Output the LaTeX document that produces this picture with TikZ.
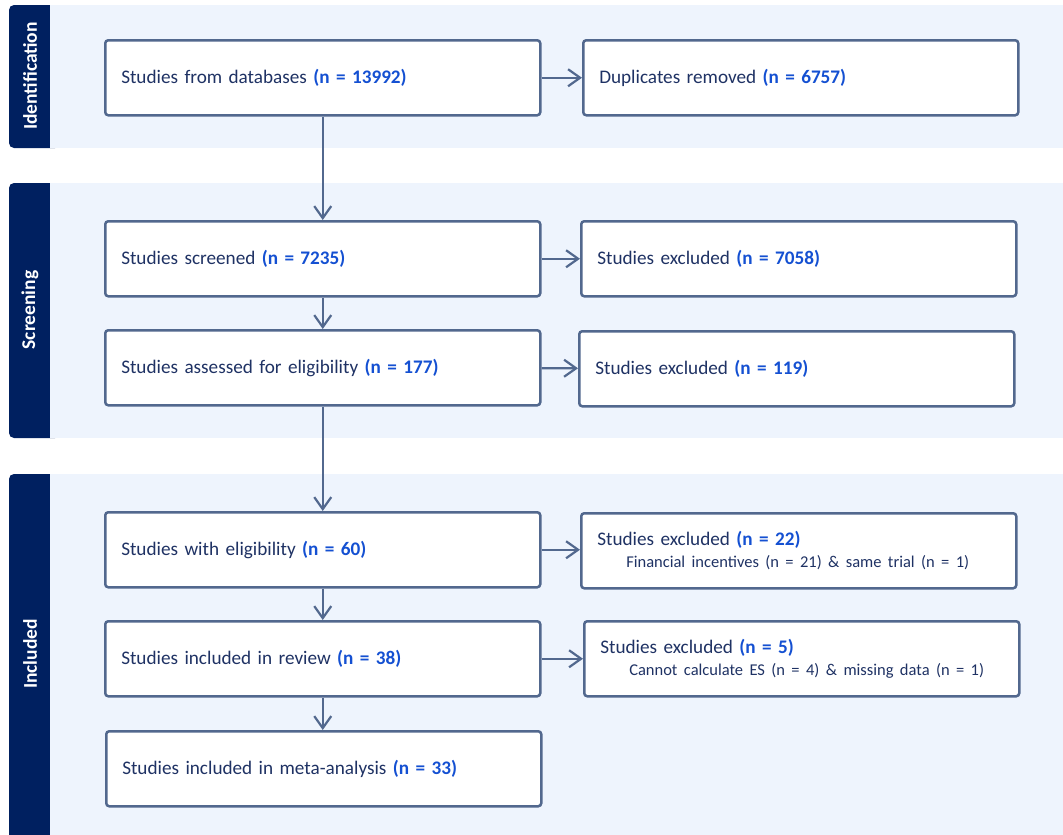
\documentclass[tikz,border=0pt]{standalone}
\usepackage{fontspec}
\setmainfont{Carlito}
\usetikzlibrary{arrows.meta}
\definecolor{tabc}{RGB}{0,32,96}
\definecolor{bandc}{RGB}{238,244,253}
\definecolor{edgec}{RGB}{82,104,142}
\definecolor{txtc}{RGB}{31,50,100}
\definecolor{numc}{RGB}{20,80,210}
\newcommand{\nnum}[1]{\textbf{\color{numc}#1}}
\newcommand{\subline}[1]{{\fontsize{16.5}{22}\selectfont\hspace*{29pt}#1}}
\begin{document}
\begin{tikzpicture}[x=1pt,y=-1pt,
  box/.style={draw=edgec, line width=2.5pt, rounded corners=3pt, fill=white,
    minimum height=75pt, text width=403pt, inner xsep=16pt, inner ysep=0pt,
    align=left, anchor=north west, font=\fontsize{19.2}{22}\selectfont, text=txtc},
  flow/.style={draw=edgec, line width=2.2pt, -{Straight Barb[length=12pt,width=17pt]}},
  tablabel/.style={rotate=90, text=white, font=\fontsize{19.5}{22}\selectfont\bfseries},
  band/.style={fill=bandc},
  tab/.style={fill=tabc}]
\useasboundingbox (0,0) rectangle (1063,835);
% bands
\fill[tab, rounded corners=5pt] (9,5) rectangle (60,148);
\fill[band] (50,5) rectangle (1063,148);
\fill[tab, rounded corners=5pt] (9,183) rectangle (60,438);
\fill[band] (50,183) rectangle (1063,438);
\fill[tab] (60,835) -- (9,835) [rounded corners=5pt] -- (9,474) -- (60,474) [sharp corners] -- cycle;
\fill[band] (50,474) rectangle (1063,835);
\node[tablabel] (t1) at (30,76) {Identification};
\node[tablabel] (t2) at (30,310) {Screening};
\node[tablabel] (t3) at (30,654) {Included};
% boxes
\node[box] (A) at (104,39) {Studies from databases \nnum{(n = 13992)}};
\node[box] (B) at (582,39) {Duplicates removed \nnum{(n = 6757)}};
\node[box] (C) at (104,220) {Studies screened \nnum{(n = 7235)}};
\node[box] (D) at (580,220) {Studies excluded \nnum{(n = 7058)}};
\node[box] (E) at (104,329) {Studies assessed for eligibility \nnum{(n = 177)}};
\node[box] (F) at (578,330) {Studies excluded \nnum{(n = 119)}};
\node[box] (G) at (104,511) {Studies with eligibility \nnum{(n = 60)}};
\node[box] (H) at (580,512) {Studies excluded \nnum{(n = 22)}\\\subline{Financial incentives (n = 21) \& same trial (n = 1)}};
\node[box] (I) at (104,620) {Studies included in review \nnum{(n = 38)}};
\node[box] (J) at (583,620) {Studies excluded \nnum{(n = 5)}\\\subline{Cannot calculate ES (n = 4) \& missing data (n = 1)}};
\node[box] (K) at (105,730) {Studies included in meta-analysis \nnum{(n = 33)}};
% arrows
\draw[flow] (A) -- (B);
\draw[flow] (C) -- (D);
\draw[flow] (E) -- (F);
\draw[flow] (G) -- (G -| H.west);
\draw[flow] (I) -- (I -| J.west);
\draw[flow] (A) -- (C);
\draw[flow] (C) -- (E);
\draw[flow] (E) -- (G);
\draw[flow] (G) -- (I);
\draw[flow] (I.south) -- (I.south |- K.north);
\end{tikzpicture}
\end{document}
